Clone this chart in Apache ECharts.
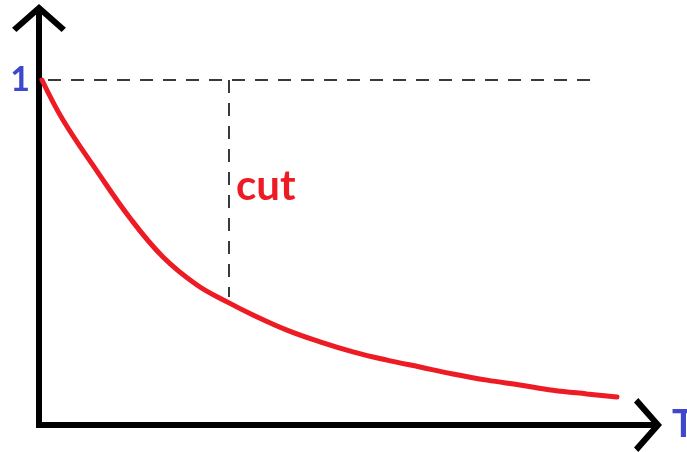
<!DOCTYPE html>
<html>
<head>
<meta charset="utf-8">
<script src="https://cdn.jsdelivr.net/npm/echarts@6/dist/echarts.min.js"></script>
<style>html,body{margin:0;padding:0;background:#fff;}#c{width:687px;height:452px;}</style>
</head>
<body>
<div id="c"></div>
<script>
// curve samples [t, value]
var curveT = [0.049, 0.394, 0.952, 1.494, 2.036, 2.594, 3.120, 3.514, 4.072, 4.614, 5.156, 5.714, 6.256, 6.798, 7.356, 7.898, 8.440, 8.998, 9.491];
var curveV = [1.0, 0.884, 0.736, 0.600, 0.487, 0.406, 0.354, 0.319, 0.275, 0.241, 0.212, 0.188, 0.168, 0.148, 0.130, 0.116, 0.101, 0.090, 0.081];
// reference level and cut position
var refLevel = 1;
var refStartT = 0.148, refEndT = 9.13;
var cutT = 3.108, cutBottom = 0.371;
var yTickLabels = ['', '1'];
var xName = 'T';
var cutText = 'cut';

var data = curveT.map(function (t, i) { return [t, curveV[i]]; });
var chevron = 'path://M50,0 L100,44 L92,52 L50,15 L8,52 L0,44 Z M44.6,5 L55.4,5 L55.4,50 L44.6,50 Z';
var blue = '#3f48cc';
var chart = echarts.init(document.getElementById('c'), null, {renderer: 'canvas'});
chart.setOption({
  animation: false,
  backgroundColor: '#fff',
  grid: {left: 39, right: 39, top: 18, bottom: 27, containLabel: false, outerBoundsMode: 'none'},
  xAxis: {
    type: 'value', min: 0, max: 10,
    name: xName, nameLocation: 'end', nameGap: 24,
    nameTextStyle: {color: blue, fontSize: 38, fontWeight: 'bold', fontFamily: 'Lato', align: 'left', verticalAlign: 'middle'},
    axisLine: {show: true, symbol: ['none', chevron], symbolSize: [56, 28], lineStyle: {color: '#000', width: 6, cap: 'square'}},
    axisTick: {show: false}, axisLabel: {show: false}, splitLine: {show: false}
  },
  yAxis: {
    type: 'value', min: 0, max: 1.1797, interval: 1,
    axisLine: {show: true, symbol: ['none', chevron], symbolSize: [56, 28], lineStyle: {color: '#000', width: 6, cap: 'square'}},
    axisTick: {show: false}, splitLine: {show: false},
    axisLabel: {
      show: true, margin: 9, color: blue, fontSize: 34, fontWeight: 'bold', fontFamily: 'Lato',
      formatter: function (v) { return v === 1 ? yTickLabels[1] : yTickLabels[0]; }
    }
  },
  series: [{
    type: 'line', data: data, smooth: 0.4, showSymbol: false, z: 3,
    lineStyle: {color: '#ed1c24', width: 5, cap: 'round'},
    markLine: {
      silent: true, symbol: ['none', 'none'], label: {show: false},
      lineStyle: {color: '#3a3a3a', width: 2, type: [13, 10]},
      data: [
        [{coord: [refStartT, refLevel]}, {coord: [refEndT, refLevel]}],
        [{coord: [cutT, refLevel]}, {coord: [cutT, cutBottom]}]
      ]
    }
  }],
  graphic: [{
    type: 'text', left: 236, top: 165, z: 10,
    style: {text: cutText, fill: '#ed1c24', font: 'bold 42px Lato'}
  }]
});
</script>
</body>
</html>
